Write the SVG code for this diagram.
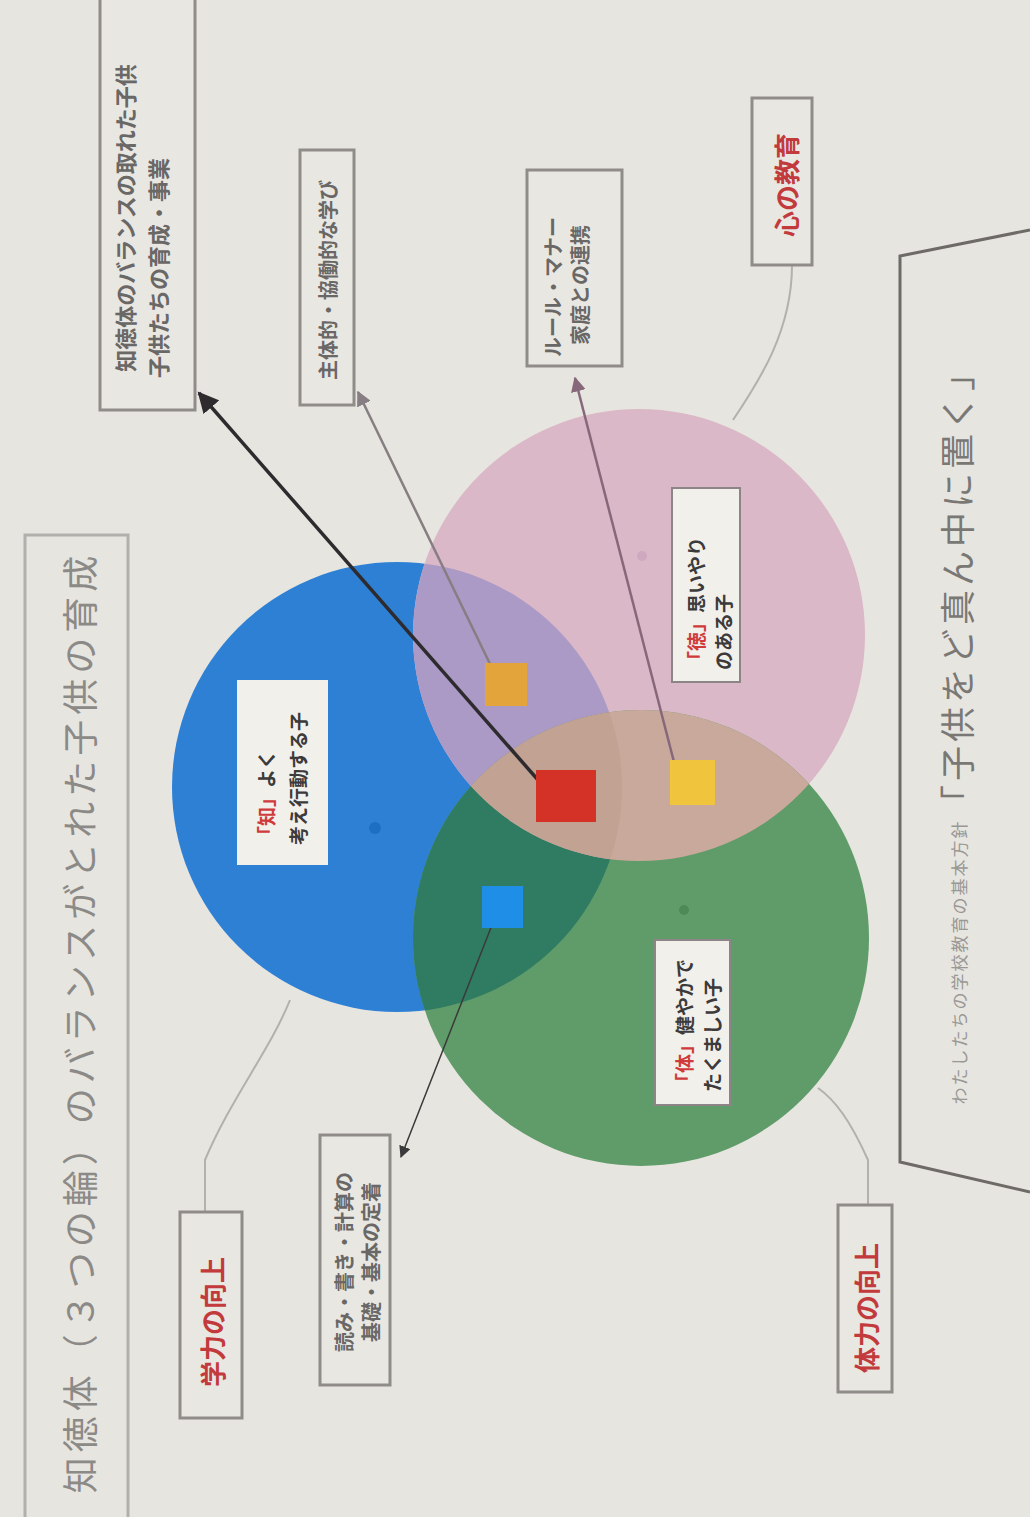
<svg xmlns="http://www.w3.org/2000/svg" width="1030" height="1517" viewBox="0 0 1030 1517">
<style>
.t{font-family:"Noto Sans CJK JP","Noto Sans CJK SC",sans-serif;}
.box{fill:#e9e7e2;stroke:#8f8c89;stroke-width:3;}
.lbl{fill:#f2f0eb;stroke:#8c8486;stroke-width:2;}
.small{font-size:20px;fill:#6a6866;font-weight:bold;}
.red{font-size:26px;fill:#c23a3c;font-weight:bold;}
.big{font-size:36px;fill:#8c8a87;}
.conn{fill:none;stroke:#b3b0ad;stroke-width:2;}
.in{font-size:19px;fill:#3c3a3a;font-weight:bold;}
.inr{fill:#cf3b3b;}
</style>
<defs>
<marker id="ahk" viewBox="0 0 10 10" refX="9" refY="5" markerWidth="6" markerHeight="6" orient="auto"><path d="M0,0 L10,5 L0,10 z" fill="#2e2b2e"/></marker>
<marker id="ahg" viewBox="0 0 10 10" refX="9" refY="5" markerWidth="6" markerHeight="6" orient="auto"><path d="M0,0 L10,5 L0,10 z" fill="#867e82"/></marker>
<marker id="ahm" viewBox="0 0 10 10" refX="9" refY="5" markerWidth="6" markerHeight="6" orient="auto"><path d="M0,0 L10,5 L0,10 z" fill="#86687a"/></marker>
<marker id="ahd" viewBox="0 0 10 10" refX="9" refY="5" markerWidth="8" markerHeight="8" orient="auto"><path d="M0,0 L10,5 L0,10 z" fill="#3a3a3a"/></marker>
<clipPath id="cb"><circle cx="397" cy="787" r="225"/></clipPath>
<clipPath id="cp"><circle cx="639" cy="635" r="226"/></clipPath>
</defs>
<rect x="0" y="0" width="1030" height="1517" fill="#e7e5e0"/>

<g id="title">
<rect x="25" y="535" width="103" height="1000" fill="none" stroke="#b2b0ad" stroke-width="3"/>
<text class="t big" transform="translate(78,1022) rotate(-90)" text-anchor="middle" dominant-baseline="central" letter-spacing="5">知徳体（３つの輪）のバランスがとれた子供の育成</text>
</g>

<g id="motto">
<path d="M1030,230 L900,256 L900,1162 L1030,1192" fill="none" stroke="#6d6a67" stroke-width="3"/>
<text class="t" font-size="17" fill="#9a9895" transform="translate(958,962) rotate(-90)" text-anchor="middle" dominant-baseline="central" letter-spacing="2">わたしたちの学校教育の基本方針</text>
<text class="t" font-size="35" fill="#7a7875" transform="translate(955,586) rotate(-90)" text-anchor="middle" dominant-baseline="central" letter-spacing="4">「子供をど真ん中に置く」</text>
</g>

<g id="circles">
<circle cx="397" cy="787" r="225" fill="#2e80d5"/>
<circle cx="639" cy="635" r="226" fill="#dbb8c7"/>
<circle cx="641" cy="938" r="228" fill="#5f9c69"/>
<g clip-path="url(#cb)"><circle cx="639" cy="635" r="226" fill="#ab9ac6"/><circle cx="641" cy="938" r="228" fill="#2f7c63"/></g>
<g clip-path="url(#cp)"><circle cx="641" cy="938" r="228" fill="#c9a99b"/></g>
<g clip-path="url(#cb)"><g clip-path="url(#cp)"><circle cx="641" cy="938" r="228" fill="#c2a292"/></g></g>
<circle cx="375" cy="828" r="6" fill="#1d6fc4"/>
<circle cx="642" cy="556" r="5" fill="#cfa9c0"/>
<circle cx="684" cy="910" r="5" fill="#4d8a58"/>
</g>

<g id="connectors">
<path class="conn" d="M792,265 C792,330 760,380 733,420"/>
<path class="conn" d="M205,1212 L205,1160 C230,1100 270,1050 290,1000"/>
<path class="conn" d="M868,1205 L868,1160 C850,1120 835,1100 818,1088"/>
<line x1="545" y1="788" x2="199" y2="393" stroke="#2e2b2e" stroke-width="3.5" marker-end="url(#ahk)"/>
<line x1="492" y1="668" x2="358" y2="392" stroke="#867e82" stroke-width="2.5" marker-end="url(#ahg)"/>
<line x1="674" y1="762" x2="575" y2="378" stroke="#86687a" stroke-width="2.5" marker-end="url(#ahm)"/>
<line x1="492" y1="925" x2="401" y2="1157" stroke="#3a3a3a" stroke-width="1.5" marker-end="url(#ahd)"/>
</g>

<g id="squares">
<rect x="485" y="663" width="42" height="43" fill="#e2a43b"/>
<rect x="536" y="770" width="60" height="52" fill="#d43127"/>
<rect x="670" y="760" width="45" height="45" fill="#f0c43c"/>
<rect x="482" y="886" width="41" height="42" fill="#1f8ee6"/>
</g>

<g id="box-aim">
<rect class="box" x="100" y="-5" width="95" height="415"/>
<text class="t small" font-size="22" transform="translate(124,218) rotate(-90)" text-anchor="middle" dominant-baseline="central" style="font-size:22px">知徳体のバランスの取れた子供</text>
<text class="t small" transform="translate(157,268) rotate(-90)" text-anchor="middle" dominant-baseline="central" style="font-size:22px">子供たちの育成・事業</text>
</g>
<g id="box-learn">
<rect class="box" x="300" y="150" width="54" height="255"/>
<text class="t small" transform="translate(327,280) rotate(-90)" text-anchor="middle" dominant-baseline="central">主体的・協働的な学び</text>
</g>
<g id="box-rule">
<rect class="box" x="527" y="170" width="95" height="196"/>
<text class="t small" transform="translate(552,287) rotate(-90)" text-anchor="middle" dominant-baseline="central">ルール・マナー</text>
<text class="t small" transform="translate(579,285) rotate(-90)" text-anchor="middle" dominant-baseline="central">家庭との連携</text>
</g>
<g id="box-heart">
<rect class="box" x="752" y="98" width="60" height="167"/>
<text class="t red" transform="translate(785,185) rotate(-90)" text-anchor="middle" dominant-baseline="central">心の教育</text>
</g>

<g id="lbl-chi">
<rect x="237" y="680" width="91" height="185" fill="#f2f0eb"/>
<text class="t in" transform="translate(265,845) rotate(-90)" dominant-baseline="central"><tspan class="inr">「知」</tspan>よく</text>
<text class="t in" transform="translate(297,845) rotate(-90)" dominant-baseline="central">考え行動する子</text>
</g>
<g id="lbl-toku">
<rect class="lbl" x="672" y="488" width="68" height="194"/>
<text class="t in" transform="translate(695,670) rotate(-90)" dominant-baseline="central"><tspan class="inr">「徳」</tspan>思いやり</text>
<text class="t in" transform="translate(722,670) rotate(-90)" dominant-baseline="central">のある子</text>
</g>
<g id="lbl-tai">
<rect class="lbl" x="655" y="940" width="75" height="165" stroke="#4e7d56"/>
<text class="t in" transform="translate(683,1092) rotate(-90)" dominant-baseline="central"><tspan class="inr">「体」</tspan>健やかで</text>
<text class="t in" transform="translate(711,1092) rotate(-90)" dominant-baseline="central">たくましい子</text>
</g>

<g id="box-basic">
<rect class="box" x="320" y="1135" width="70" height="250"/>
<text class="t small" transform="translate(343,1262) rotate(-90)" text-anchor="middle" dominant-baseline="central">読み・書き・計算の</text>
<text class="t small" transform="translate(370,1262) rotate(-90)" text-anchor="middle" dominant-baseline="central">基礎・基本の定着</text>
</g>
<g id="box-gakuryoku">
<rect class="box" x="180" y="1212" width="62" height="206"/>
<text class="t red" transform="translate(211,1322) rotate(-90)" text-anchor="middle" dominant-baseline="central">学力の向上</text>
</g>
<g id="box-tairyoku">
<rect class="box" x="838" y="1205" width="54" height="187"/>
<text class="t red" transform="translate(865,1308) rotate(-90)" text-anchor="middle" dominant-baseline="central">体力の向上</text>
</g>
</svg>
